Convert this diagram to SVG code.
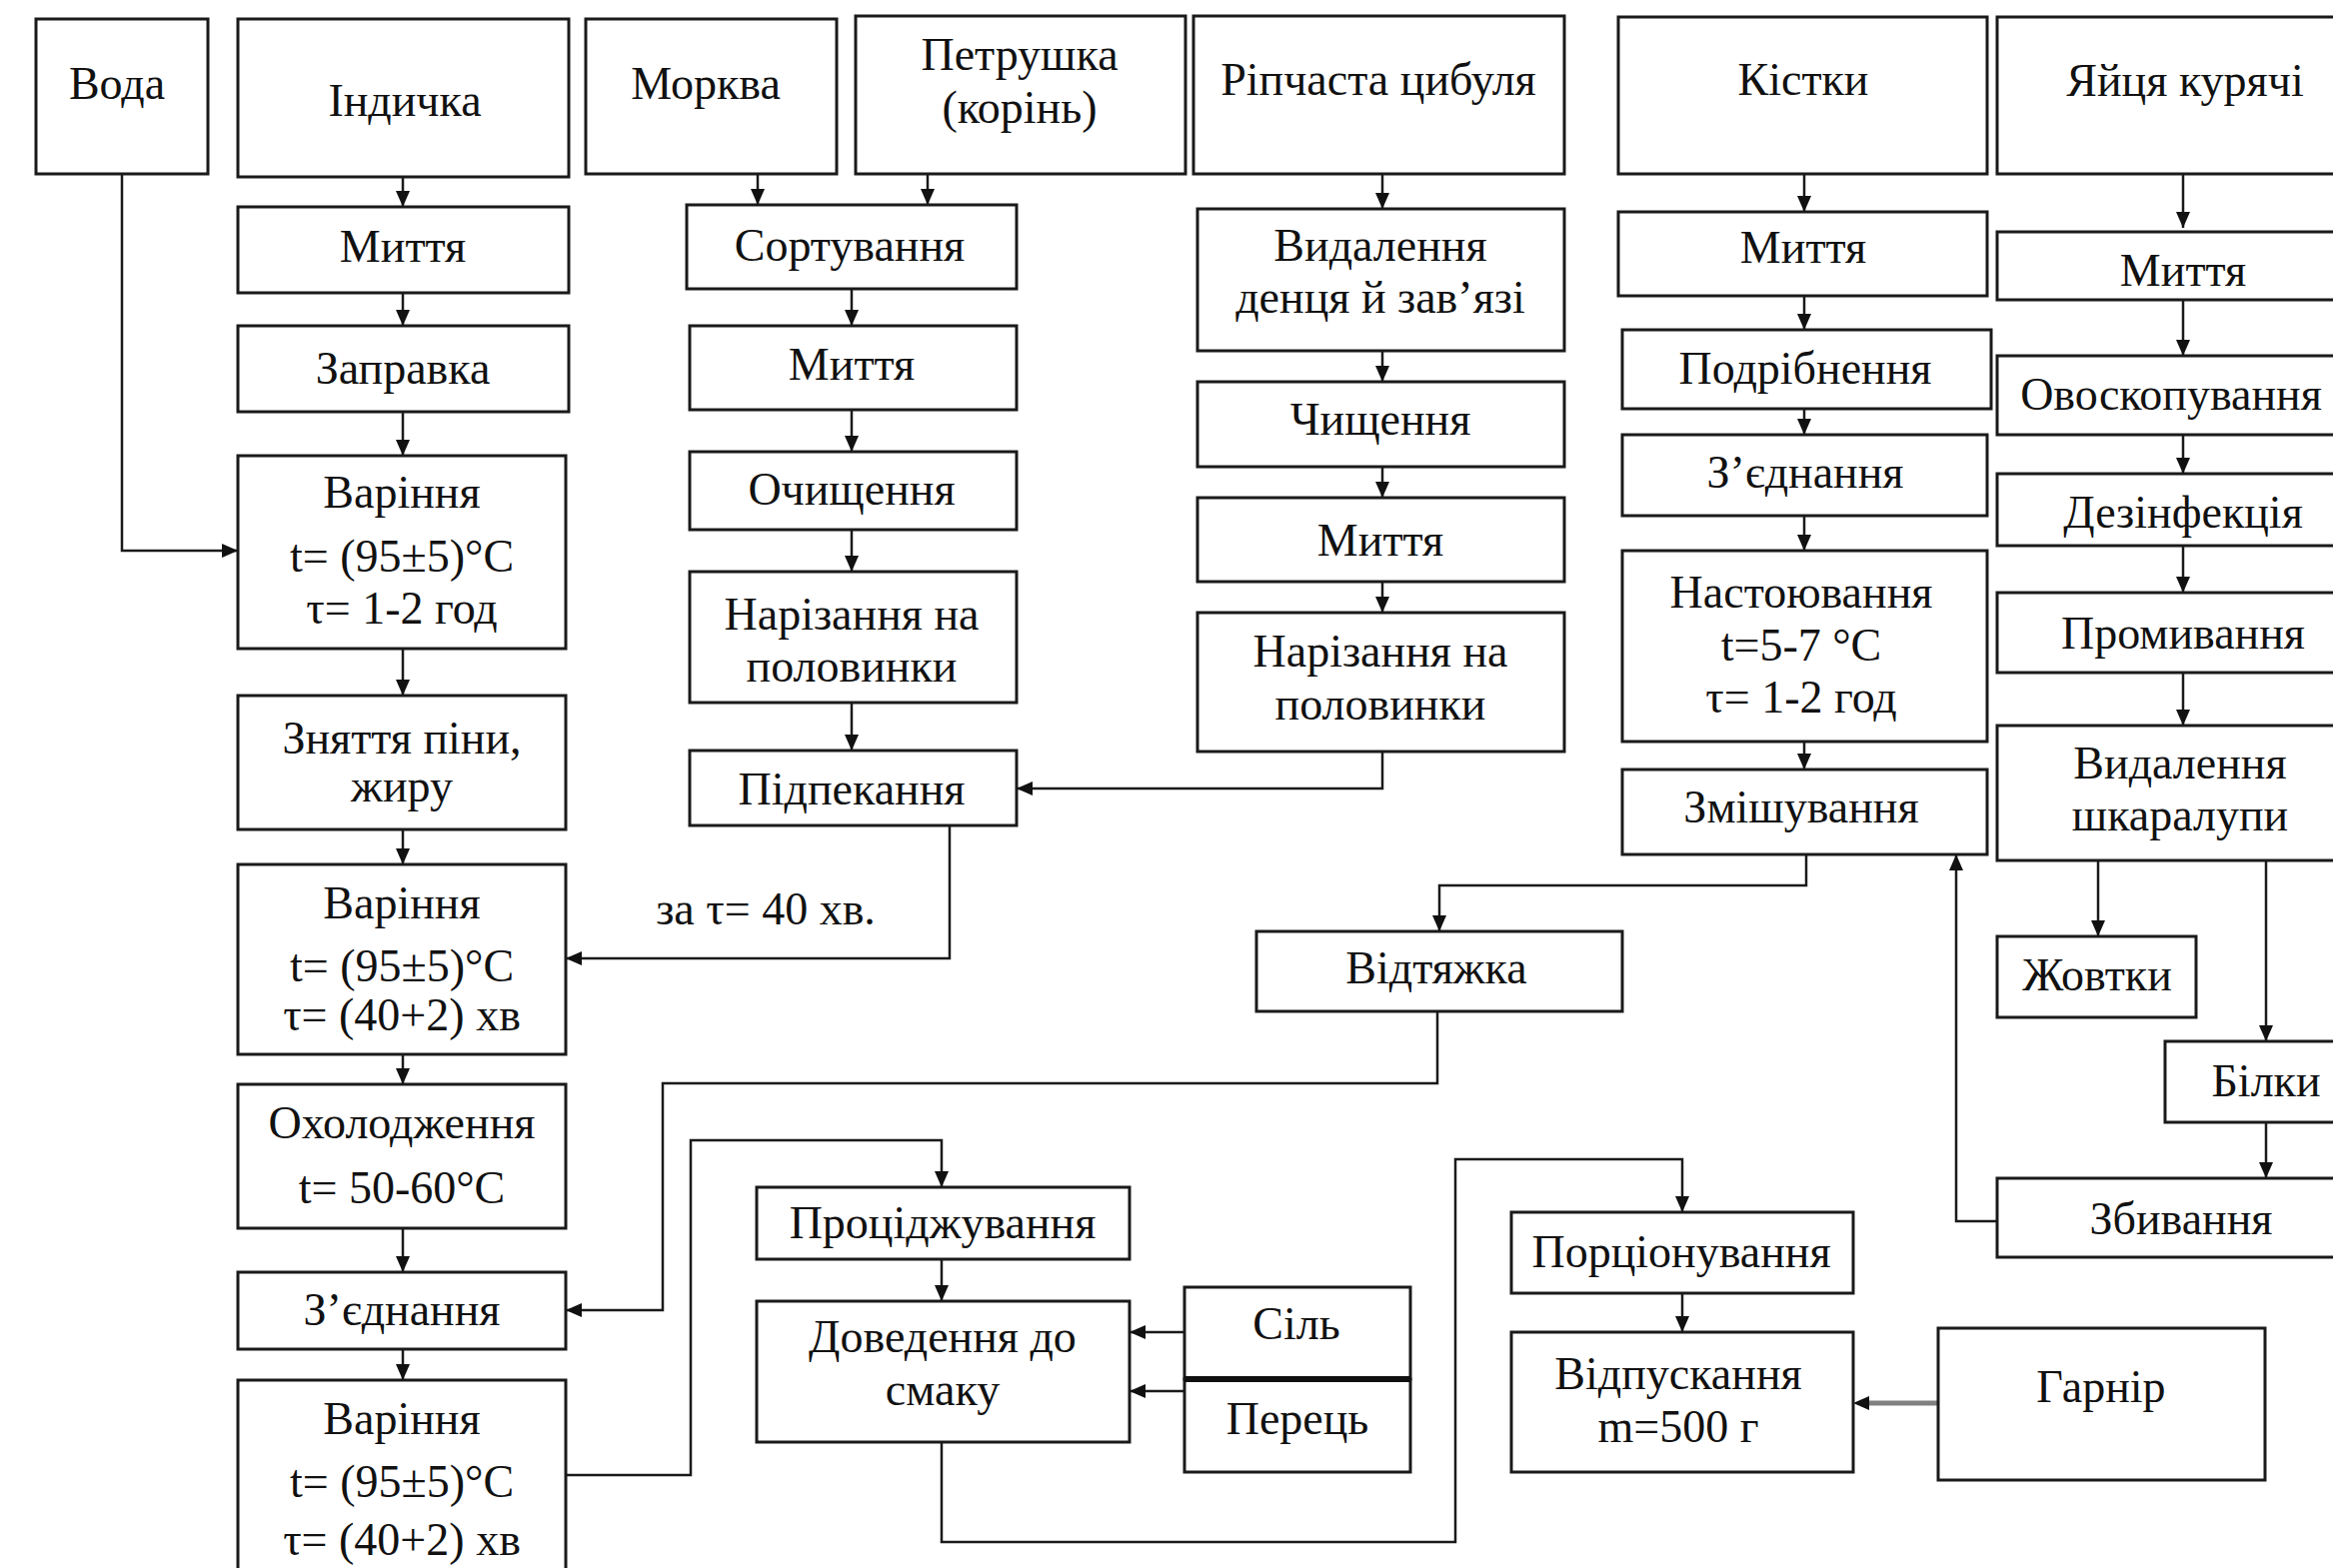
<svg xmlns="http://www.w3.org/2000/svg" width="2334" height="1569" viewBox="0 0 2334 1569">
<style>
.box{fill:#fff;stroke:#1a1a1a;stroke-width:3}
.t{font-family:"Liberation Serif","Times New Roman",serif;font-size:46px;fill:#111;text-anchor:middle}
.c{fill:none;stroke:#1a1a1a;stroke-width:2.5}
.g{fill:none;stroke:#808080;stroke-width:5}
</style>
<defs>
<marker id="ah" markerUnits="userSpaceOnUse" markerWidth="16" markerHeight="14" viewBox="0 0 16 14" refX="16" refY="7" orient="auto">
<path d="M0,0 L16,7 L0,14 z" fill="#111"/>
</marker>
</defs>
<rect width="2334" height="1569" fill="#fff"/>
<g id="connectors">
<path class="c" d="M122,174 V551 H238" marker-end="url(#ah)"/>
<path class="c" d="M403,177 V207" marker-end="url(#ah)"/>
<path class="c" d="M403,293 V326" marker-end="url(#ah)"/>
<path class="c" d="M403,412 V456" marker-end="url(#ah)"/>
<path class="c" d="M403,649 V696" marker-end="url(#ah)"/>
<path class="c" d="M403,830 V865" marker-end="url(#ah)"/>
<path class="c" d="M403,1055 V1085" marker-end="url(#ah)"/>
<path class="c" d="M403,1229 V1273" marker-end="url(#ah)"/>
<path class="c" d="M403,1350 V1381" marker-end="url(#ah)"/>
<path class="c" d="M758,174 V205" marker-end="url(#ah)"/>
<path class="c" d="M928,174 V205" marker-end="url(#ah)"/>
<path class="c" d="M852,289 V326" marker-end="url(#ah)"/>
<path class="c" d="M852,410 V452" marker-end="url(#ah)"/>
<path class="c" d="M852,530 V572" marker-end="url(#ah)"/>
<path class="c" d="M852,703 V751" marker-end="url(#ah)"/>
<path class="c" d="M950,826 V959 H566" marker-end="url(#ah)"/>
<path class="c" d="M1383,174 V209" marker-end="url(#ah)"/>
<path class="c" d="M1383,351 V382" marker-end="url(#ah)"/>
<path class="c" d="M1383,467 V498" marker-end="url(#ah)"/>
<path class="c" d="M1383,582 V613" marker-end="url(#ah)"/>
<path class="c" d="M1383,752 V789 H1017" marker-end="url(#ah)"/>
<path class="c" d="M1805,174 V212" marker-end="url(#ah)"/>
<path class="c" d="M1805,296 V330" marker-end="url(#ah)"/>
<path class="c" d="M1805,409 V435" marker-end="url(#ah)"/>
<path class="c" d="M1805,516 V551" marker-end="url(#ah)"/>
<path class="c" d="M1805,742 V770" marker-end="url(#ah)"/>
<path class="c" d="M1807,855 V886 H1440 V932" marker-end="url(#ah)"/>
<path class="c" d="M1438,1012 V1084 H663 V1311 H566" marker-end="url(#ah)"/>
<path class="c" d="M566,1476 H691 V1141 H942 V1188" marker-end="url(#ah)"/>
<path class="c" d="M942,1260 V1302" marker-end="url(#ah)"/>
<path class="c" d="M1185,1333 H1130" marker-end="url(#ah)"/>
<path class="c" d="M1185,1392 H1130" marker-end="url(#ah)"/>
<path class="c" d="M942,1443 V1543 H1456 V1160 H1683 V1213" marker-end="url(#ah)"/>
<path class="c" d="M1683,1294 V1333" marker-end="url(#ah)"/>
<path class="g" d="M1939,1404 H1866"/>
<path d="M1870,1397 L1854,1404 L1870,1411 z" fill="#111"/>
<path class="c" d="M2184,174 V228" marker-end="url(#ah)"/>
<path class="c" d="M2184,300 V356" marker-end="url(#ah)"/>
<path class="c" d="M2184,435 V474" marker-end="url(#ah)"/>
<path class="c" d="M2184,546 V593" marker-end="url(#ah)"/>
<path class="c" d="M2184,673 V726" marker-end="url(#ah)"/>
<path class="c" d="M2099,861 V937" marker-end="url(#ah)"/>
<path class="c" d="M2267,861 V1042" marker-end="url(#ah)"/>
<path class="c" d="M2267,1123 V1179" marker-end="url(#ah)"/>
<path class="c" d="M1998,1222 H1957 V855" marker-end="url(#ah)"/>
</g>
<text class="t" x="766" y="925">за τ= 40 хв.</text>

<g id="voda"><rect class="box" x="36" y="19" width="172" height="155"/><text class="t" x="117" y="99">Вода</text></g>
<g id="indychka"><rect class="box" x="238" y="19" width="331" height="158"/><text class="t" x="405" y="116">Індичка</text></g>
<g id="myttia1"><rect class="box" x="238" y="207" width="331" height="86"/><text class="t" x="403" y="262">Миття</text></g>
<g id="zapravka"><rect class="box" x="238" y="326" width="331" height="86"/><text class="t" x="403" y="384">Заправка</text></g>
<g id="varinnia1"><rect class="box" x="238" y="456" width="328" height="193"/><text class="t" x="402" y="508">Варіння</text><text class="t" x="402" y="572">t= (95±5)°C</text><text class="t" x="402" y="624">τ= 1-2 год</text></g>
<g id="zniattia"><rect class="box" x="238" y="696" width="328" height="134"/><text class="t" x="402" y="754">Зняття піни,</text><text class="t" x="402" y="802">жиру</text></g>
<g id="varinnia2"><rect class="box" x="238" y="865" width="328" height="190"/><text class="t" x="402" y="919">Варіння</text><text class="t" x="402" y="982">t= (95±5)°C</text><text class="t" x="402" y="1031">τ= (40+2) хв</text></g>
<g id="okholodzhennia"><rect class="box" x="238" y="1085" width="328" height="144"/><text class="t" x="402" y="1139">Охолодження</text><text class="t" x="402" y="1204">t= 50-60°C</text></g>
<g id="ziednannia1"><rect class="box" x="238" y="1273" width="328" height="77"/><text class="t" x="402" y="1326">З’єднання</text></g>
<g id="varinnia3"><rect class="box" x="238" y="1381" width="328" height="200"/><text class="t" x="402" y="1435">Варіння</text><text class="t" x="402" y="1498">t= (95±5)°C</text><text class="t" x="402" y="1556">τ= (40+2) хв</text></g>

<g id="morkva"><rect class="box" x="586" y="19" width="251" height="155"/><text class="t" x="706" y="99">Морква</text></g>
<g id="petrushka"><rect class="box" x="856" y="16" width="330" height="158"/><text class="t" x="1020" y="70">Петрушка</text><text class="t" x="1020" y="123">(корінь)</text></g>
<g id="sortuvannia"><rect class="box" x="687" y="205" width="330" height="84"/><text class="t" x="850" y="261">Сортування</text></g>
<g id="myttia2"><rect class="box" x="690" y="326" width="327" height="84"/><text class="t" x="852" y="380">Миття</text></g>
<g id="ochyshchennia"><rect class="box" x="690" y="452" width="327" height="78"/><text class="t" x="852" y="505">Очищення</text></g>
<g id="narizannia1"><rect class="box" x="690" y="572" width="327" height="131"/><text class="t" x="852" y="630">Нарізання на</text><text class="t" x="852" y="682">половинки</text></g>
<g id="pidpekannia"><rect class="box" x="690" y="751" width="327" height="75"/><text class="t" x="852" y="805">Підпекання</text></g>

<g id="tsybulia"><rect class="box" x="1194" y="16" width="371" height="158"/><text class="t" x="1379" y="95">Ріпчаста цибуля</text></g>
<g id="vydalennia1"><rect class="box" x="1198" y="209" width="367" height="142"/><text class="t" x="1381" y="261">Видалення</text><text class="t" x="1381" y="313">денця й зав’язі</text></g>
<g id="chyshchennia"><rect class="box" x="1198" y="382" width="367" height="85"/><text class="t" x="1381" y="435">Чищення</text></g>
<g id="myttia3"><rect class="box" x="1198" y="498" width="367" height="84"/><text class="t" x="1381" y="556">Миття</text></g>
<g id="narizannia2"><rect class="box" x="1198" y="613" width="367" height="139"/><text class="t" x="1381" y="667">Нарізання на</text><text class="t" x="1381" y="720">половинки</text></g>

<g id="kistky"><rect class="box" x="1619" y="17" width="369" height="157"/><text class="t" x="1804" y="95">Кістки</text></g>
<g id="myttia4"><rect class="box" x="1619" y="212" width="369" height="84"/><text class="t" x="1804" y="263">Миття</text></g>
<g id="podribnennia"><rect class="box" x="1623" y="330" width="369" height="79"/><text class="t" x="1806" y="384">Подрібнення</text></g>
<g id="ziednannia2"><rect class="box" x="1623" y="435" width="365" height="81"/><text class="t" x="1806" y="488">З’єднання</text></g>
<g id="nastoiuvannia"><rect class="box" x="1623" y="551" width="365" height="191"/><text class="t" x="1802" y="608">Настоювання</text><text class="t" x="1802" y="661">t=5-7 °C</text><text class="t" x="1802" y="713">τ= 1-2 год</text></g>
<g id="zmishuvannia"><rect class="box" x="1623" y="770" width="365" height="85"/><text class="t" x="1802" y="823">Змішування</text></g>
<g id="vidtiazhka"><rect class="box" x="1257" y="932" width="366" height="80"/><text class="t" x="1437" y="984">Відтяжка</text></g>

<g id="yaitsia"><rect class="box" x="1998" y="17" width="380" height="157"/><text class="t" x="2186" y="96">Яйця курячі</text></g>
<g id="myttia5"><rect class="box" x="1998" y="232" width="380" height="68"/><text class="t" x="2184" y="286">Миття</text></g>
<g id="ovoskopuvannia"><rect class="box" x="1998" y="356" width="380" height="79"/><text class="t" x="2172" y="410">Овоскопування</text></g>
<g id="dezinfektsiia"><rect class="box" x="1998" y="474" width="380" height="72"/><text class="t" x="2184" y="528">Дезінфекція</text></g>
<g id="promyvannia"><rect class="box" x="1998" y="593" width="380" height="80"/><text class="t" x="2184" y="649">Промивання</text></g>
<g id="vydalennia2"><rect class="box" x="1998" y="726" width="380" height="135"/><text class="t" x="2181" y="779">Видалення</text><text class="t" x="2181" y="831">шкаралупи</text></g>
<g id="zhovtky"><rect class="box" x="1998" y="937" width="199" height="81"/><text class="t" x="2098" y="991">Жовтки</text></g>
<g id="bilky"><rect class="box" x="2166" y="1042" width="212" height="81"/><text class="t" x="2267" y="1097">Білки</text></g>
<g id="zbyvannia"><rect class="box" x="1998" y="1179" width="380" height="79"/><text class="t" x="2182" y="1235">Збивання</text></g>

<g id="protsidzhuvannia"><rect class="box" x="757" y="1188" width="373" height="72"/><text class="t" x="943" y="1239">Проціджування</text></g>
<g id="dovedennia"><rect class="box" x="757" y="1302" width="373" height="141"/><text class="t" x="943" y="1353">Доведення до</text><text class="t" x="943" y="1406">смаку</text></g>
<g id="sil"><rect class="box" x="1185" y="1288" width="226" height="92"/><text class="t" x="1297" y="1340">Сіль</text></g>
<g id="perets"><rect class="box" x="1185" y="1380" width="226" height="93"/><text class="t" x="1298" y="1435">Перець</text></g>
<line x1="1185" y1="1380" x2="1411" y2="1380" stroke="#111" stroke-width="6"/>
<g id="portsionuvannia"><rect class="box" x="1512" y="1213" width="342" height="81"/><text class="t" x="1682" y="1268">Порціонування</text></g>
<g id="vidpuskannia"><rect class="box" x="1512" y="1333" width="342" height="140"/><text class="t" x="1679" y="1390">Відпускання</text><text class="t" x="1679" y="1443">m=500 г</text></g>
<g id="garnir"><rect class="box" x="1939" y="1329" width="327" height="152"/><text class="t" x="2102" y="1403">Гарнір</text></g>
</svg>
